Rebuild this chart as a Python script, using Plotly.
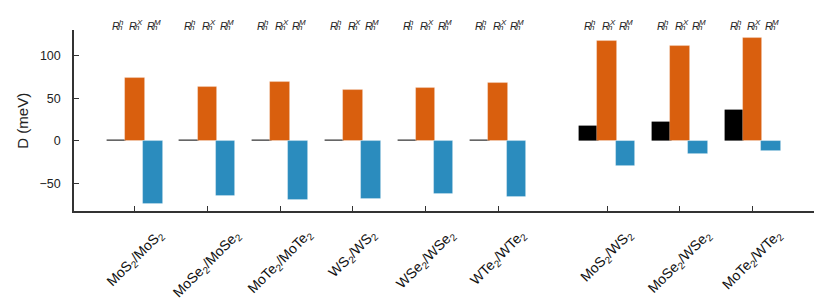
import plotly.graph_objects as go

categories = ["MoS<sub>2</sub>/MoS<sub>2</sub>", "MoSe<sub>2</sub>/MoSe<sub>2</sub>",
              "MoTe<sub>2</sub>/MoTe<sub>2</sub>", "WS<sub>2</sub>/WS<sub>2</sub>",
              "WSe<sub>2</sub>/WSe<sub>2</sub>", "WTe<sub>2</sub>/WTe<sub>2</sub>",
              "MoS<sub>2</sub>/WS<sub>2</sub>", "MoSe<sub>2</sub>/WSe<sub>2</sub>",
              "MoTe<sub>2</sub>/WTe<sub>2</sub>"]
positions = [1, 2, 3, 4, 5, 6, 7.5, 8.5, 9.5]
d_hh = [1.5, 1.5, 1.5, 1.5, 1.5, 1.5, 17.3, 22.4, 36.1]
d_hx = [74.1, 62.8, 68.7, 60.0, 62.4, 67.5, 117.6, 111.4, 120.8]
d_hm = [-73.7, -64.3, -69.8, -68.2, -62.0, -65.9, -29.4, -16.0, -11.7]
stack_sup = ["h", "X", "M"]
y_ticks = [-50, 0, 50, 100]
y_title = "D (meV)"

FONT = "Liberation Sans, Arial, sans-serif"
W = 0.27
STEP = 0.25

fig = go.Figure()
series = [(d_hh, "black", -STEP, "rgba(0,0,0,0)"),
          (d_hx, "#D95F0E", 0.0, "rgba(255,255,255,0.35)"),
          (d_hm, "#2B8CBE", STEP, "rgba(255,255,255,0.35)")]
for vals, col, off, lc in series:
    fig.add_trace(go.Bar(x=positions, y=vals, width=W, offset=off - W / 2,
                         marker=dict(color=col, line=dict(color=lc, width=0.8)),
                         showlegend=False))

annotations = []
# top labels R_h^{h,X,M}
sup_w = {"h": 4.4, "X": 5.3, "M": 6.7}
wR = 7.2
for p in positions:
    for k, s in enumerate(stack_sup):
        c = p + (k - 1) * STEP
        tot = wR + sup_w[s]
        left = -tot / 2
        annotations.append(dict(x=c, y=1.021, xref="x", yref="paper", text="<i>R</i>",
                                showarrow=False, xanchor="left", yanchor="middle",
                                borderpad=0, xshift=left,
                                font=dict(family=FONT, size=10.5, color="#222")))
        annotations.append(dict(x=c, y=1.044, xref="x", yref="paper", text="<i>%s</i>" % s,
                                showarrow=False, xanchor="left", yanchor="middle",
                                borderpad=0, xshift=left + wR - 0.3,
                                font=dict(family=FONT, size=8, color="#222")))
        annotations.append(dict(x=c, y=1.012, xref="x", yref="paper", text="<i>h</i>",
                                showarrow=False, xanchor="left", yanchor="middle",
                                borderpad=0, xshift=left + wR - 1.3,
                                font=dict(family=FONT, size=8, color="#222")))

# rotated category labels
for p, lab in zip(positions, categories):
    annotations.append(dict(x=p, y=-0.079, xref="x", yref="paper", text=lab,
                            showarrow=False, xanchor="center", yanchor="top",
                            borderpad=0, textangle=-45,
                            font=dict(family=FONT, size=14, color="#111")))

# y-axis title
annotations.append(dict(x=-0.0696, y=0.502, xref="paper", yref="paper", text=y_title,
                        showarrow=False, xanchor="center", yanchor="middle",
                        textangle=-90, font=dict(family=FONT, size=15, color="#222")))

fig.update_layout(
    width=830, height=308,
    margin=dict(l=74, r=16, t=30, b=97.3, autoexpand=False),
    plot_bgcolor="white", paper_bgcolor="white",
    barmode="overlay", bargap=0,
    font=dict(family=FONT, size=13, color="#222"),
    annotations=annotations,
    xaxis=dict(range=[0.165, 10.344], tickvals=positions, showticklabels=False,
               ticks="inside", ticklen=5, tickwidth=1.2, tickcolor="#333",
               showline=True, linecolor="#333", linewidth=1.5, automargin=False,
               showgrid=False, zeroline=False, fixedrange=True),
    yaxis=dict(range=[-82.4, 130.2], tickvals=y_ticks, automargin=False,
               ticks="inside", ticklen=5, tickwidth=1.2, tickcolor="#333",
               showline=True, linecolor="#333", linewidth=1.5,
               showgrid=False, zeroline=False, ticklabelstandoff=9,
               tickfont=dict(family=FONT, size=12.5, color="#222")),
)

fig.write_html("out.html", config={"displayModeBar": False},
               post_script="document.body.style.margin='0';document.body.style.overflow='hidden';")
